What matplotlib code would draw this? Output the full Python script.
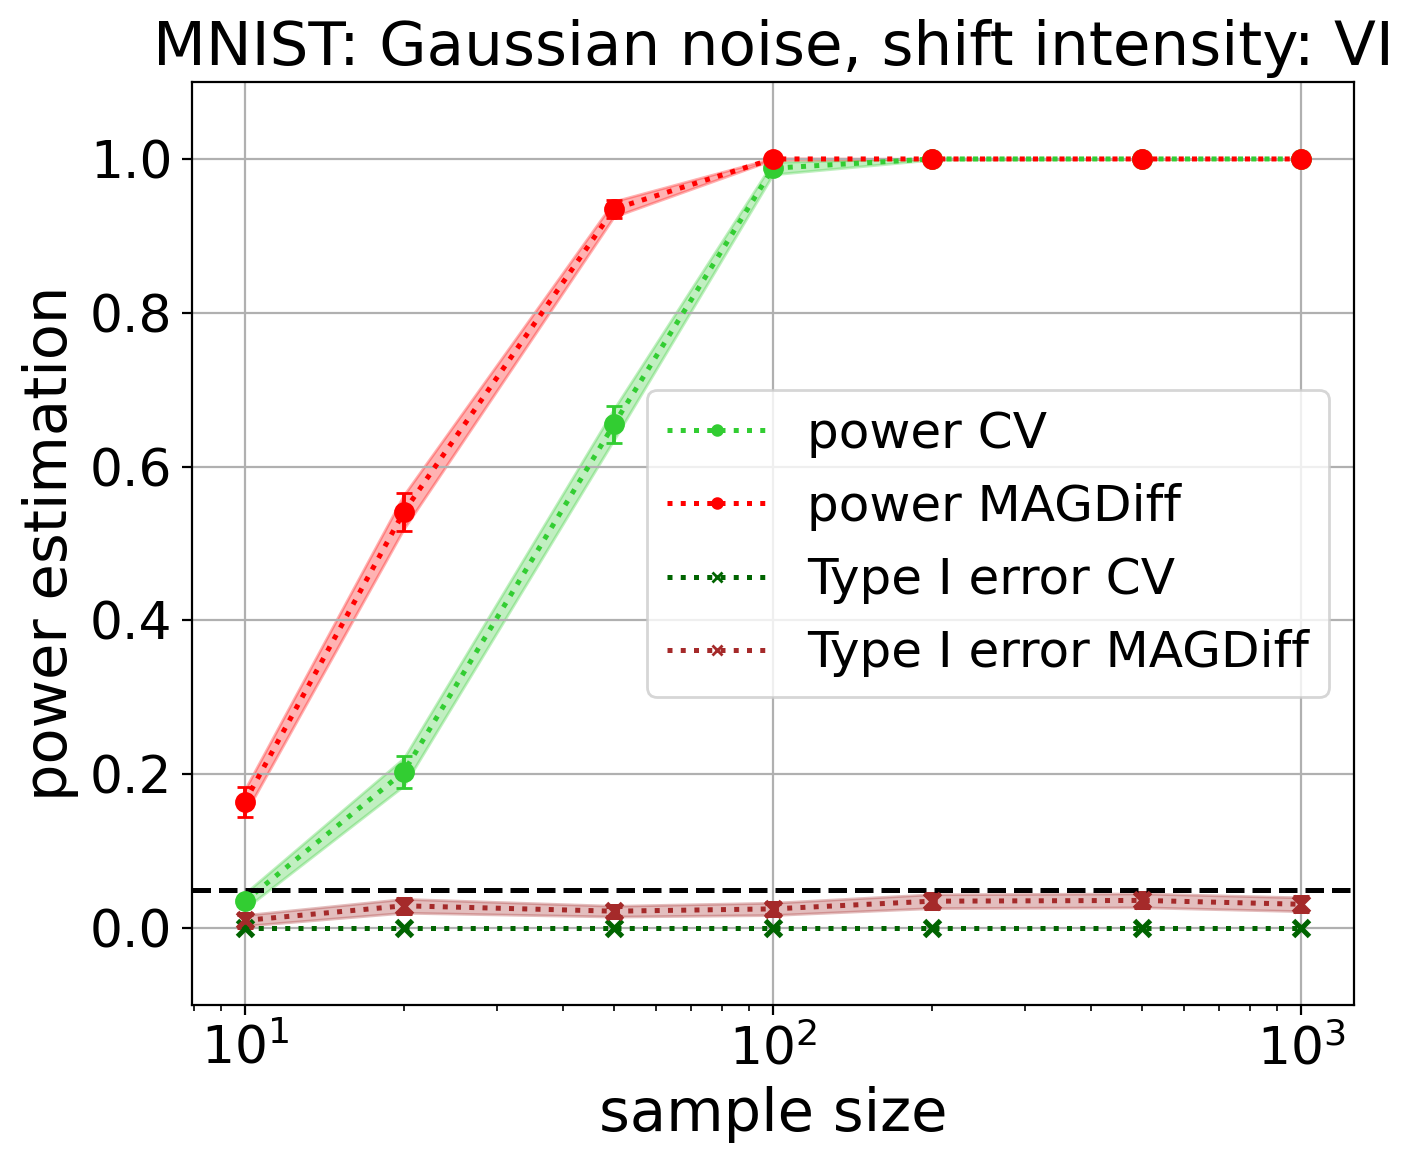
import matplotlib
matplotlib.use("Agg")
import matplotlib.pyplot as plt
import numpy as np

sizes = [10, 20, 50, 100, 200, 500, 1000]

power_cv = [0.035, 0.203, 0.655, 0.988, 1.0, 1.0, 1.0]
power_cv_err = [0.006, 0.021, 0.024, 0.005, 0.0, 0.0, 0.0]
power_cv_band = [0.010, 0.018, 0.020, 0.008, 0.001, 0.0, 0.0]

power_mag = [0.164, 0.541, 0.935, 1.0, 1.0, 1.0, 1.0]
power_mag_err = [0.019, 0.025, 0.012, 0.0, 0.0, 0.0, 0.0]
power_mag_band = [0.016, 0.022, 0.010, 0.001, 0.0, 0.0, 0.0]

type1_cv = [0.0, 0.0, 0.0, 0.0, 0.0, 0.0, 0.0]

type1_mag = [0.010, 0.029, 0.022, 0.025, 0.035, 0.036, 0.031]
type1_mag_err = [0.008, 0.009, 0.007, 0.008, 0.009, 0.009, 0.009]
type1_mag_band = [0.007, 0.009, 0.007, 0.008, 0.009, 0.009, 0.009]

alpha_level = 0.05

fig = plt.figure(figsize=(7.055, 5.835), dpi=200)
ax = fig.add_axes([0.136, 0.1388, 0.8236, 0.7909])

def draw(vals, err, band, color, marker, ms_line, ms_bar, mew, label):
    vals = np.array(vals)
    band = np.array(band)
    if band.any():
        ax.fill_between(sizes, vals - band, vals + band, color=color, alpha=0.3, lw=1)
    ax.plot(sizes, vals, linestyle=':', marker=marker, ms=ms_line, lw=1.8,
            color=color, label=label)
    ax.errorbar(sizes, vals, yerr=err, fmt=marker, ms=ms_bar, color=color,
                capsize=2.8, elinewidth=1.4, capthick=1.4, mew=mew)

draw(power_cv, power_cv_err, power_cv_band, 'limegreen', 'o', 3.5, 6.5, 1, 'power CV')
draw(power_mag, power_mag_err, power_mag_band, 'red', 'o', 3.5, 6.5, 1, 'power MAGDiff')
draw(type1_cv, None, [0] * 7, 'darkgreen', 'x', 3.5, 6, 1.8, 'Type I error CV')
draw(type1_mag, type1_mag_err, type1_mag_band, 'brown', 'x', 3.5, 6, 1.8, 'Type I error MAGDiff')

ax.axhline(alpha_level, color='black', linestyle='--', lw=1.8)

ax.set_xscale('log')
ax.set_ylim(-0.1, 1.1)
ax.grid(True)
ax.tick_params(axis='both', labelsize=18.7)
ax.set_xlabel('sample size', fontsize=21.3)
ax.set_ylabel('power estimation', fontsize=21.3)
ax.set_title('MNIST: Gaussian noise, shift intensity: VI', fontsize=22.05)
ax.legend(loc='center right', fontsize=18.05)

fig.savefig('out.png', dpi=200)
